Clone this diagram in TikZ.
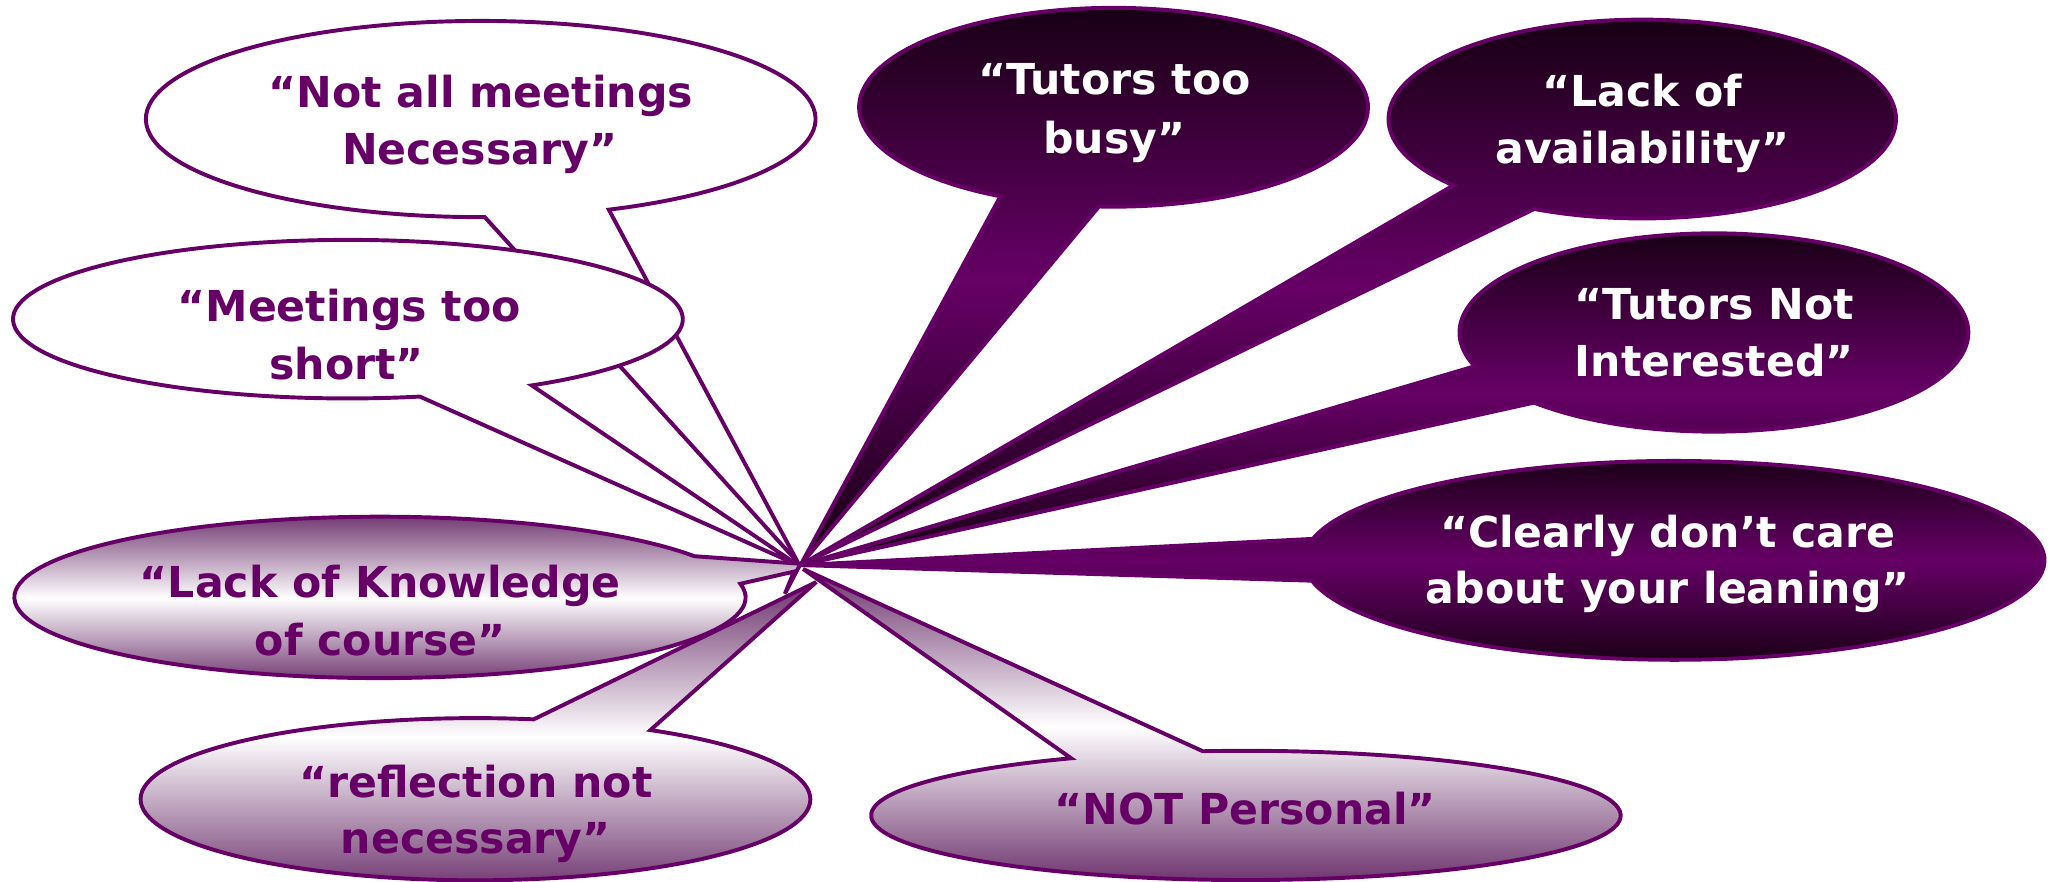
\documentclass[tikz,border=0pt]{standalone}
\usepackage{fontspec}
\setmainfont{DejaVu Sans}
\usetikzlibrary{calc}
\definecolor{pur}{RGB}{102,0,102}
\definecolor{darkp}{RGB}{20,0,16}
\definecolor{lightp}{RGB}{108,50,108}
\tikzset{
  bubble/.style={draw=pur, line width=1.5pt, line join=miter, miter limit=4},
  whitebub/.style={bubble, fill=white},
  lightbub/.style={bubble, top color=lightp, bottom color=lightp, middle color=white},
  darkbub/.style={bubble, top color=darkp, bottom color=darkp, middle color=pur},
  lbl/.style={font=\bfseries\fontsize{16.3}{20}\selectfont, anchor=base, inner sep=0pt},
  lbllight/.style={lbl, text=pur},
  lbldark/.style={lbl, text=white},
}
\begin{document}
\begin{tikzpicture}[x=0.5pt,y=-0.5pt]
\useasboundingbox (0,0) rectangle (1568,674);
% centres and tips
\coordinate (cA) at (367.5,91);
\coordinate (cB) at (266,244);
\coordinate (cC) at (290.5,456.7);
\coordinate (cD) at (363.5,611);
\coordinate (cE) at (952.5,623.4);
\coordinate (cF) at (851.3,82);
\coordinate (cG) at (1255.5,91);
\coordinate (cH) at (1310.3,254.2);
\coordinate (cI) at (1280,428.4);
\coordinate (tA) at (610,430);
\coordinate (tB) at (610,432);
\coordinate (tC) at (612,431);
\coordinate (sC) at (600,454);
\coordinate (nC) at (607,437);
\coordinate (tD) at (624,445);
\coordinate (tE) at (614,435);
\coordinate (tF) at (612,432);
\coordinate (tG) at (612,432);
\coordinate (tH) at (612,432);
\coordinate (tI) at (612,432);

% Not all meetings Necessary
\draw[whitebub] ($(cA)+(89.3:256 and 75)$) arc[start angle=89.3, end angle=427.5, x radius=256, y radius=75] -- (tA) -- cycle;
\node[lbllight] (a1) at (367.5,82) {“Not all meetings};
\node[lbllight] (a2) at (366.7,125.4) {Necessary”};

% Meetings too short
\draw[whitebub] ($(cB)+(77.6:256 and 60.6)$) arc[start angle=77.6, end angle=416.7, x radius=256, y radius=60.6] -- (tB) -- cycle;
\node[lbllight] (b1) at (267,246) {“Meetings too};
\node[lbllight] (b2) at (265,290.5) {short”};

% Tutors too busy
\draw[darkbub] ($(cF)+(116.4:194.5 and 76)$) arc[start angle=116.4, end angle=453.3, x radius=194.5, y radius=76] -- (tF) -- cycle;
\node[lbldark] (f1) at (852,72.6) {“Tutors too};
\node[lbldark] (f2) at (852,117) {busy”};

% Lack of availability
\draw[darkbub] ($(cG)+(138.1:194 and 76)$) arc[start angle=138.1, end angle=475.2, x radius=194, y radius=76] -- (tG) -- cycle;
\node[lbldark] (g1) at (1255.5,81.6) {“Lack of};
\node[lbldark] (g2) at (1255.5,124.9) {availability”};

% Tutors Not Interested
\draw[darkbub] ($(cH)+(160.1:194.5 and 75.8)$) arc[start angle=160.1, end angle=495, x radius=194.5, y radius=75.8] -- (tH) -- cycle;
\node[lbldark] (h1) at (1310.6,244.6) {“Tutors Not};
\node[lbldark] (h2) at (1310.6,288) {Interested”};

% Clearly don't care
\draw[darkbub] ($(cI)+(192.5:283 and 76)$) arc[start angle=192.5, end angle=528.2, x radius=283, y radius=76] -- (tI) -- cycle;
\node[lbldark] (i1) at (1275,418.4) {“Clearly don’t care};
\node[lbldark] (i2) at (1275,461) {about your leaning”};

% Lack of Knowledge of course
\draw[lightbub] ($(cC)+(350.3:279.5 and 61.7)$) arc[start angle=350.3, end angle=689.3, x radius=279.5, y radius=61.7] -- (tC) -- (sC) -- (nC) -- cycle;
\node[lbllight] (c1) at (290.7,457) {“Lack of Knowledge};
\node[lbllight] (c2) at (290.7,500.8) {of course”};

% reflection not necessary
\draw[lightbub] ($(cD)+(-58.5:256 and 62)$) arc[start angle=-58.5, end angle=280, x radius=256, y radius=62] -- (tD) -- cycle;
\node[lbllight] (d1) at (363.8,609.8) {“reflection not};
\node[lbllight] (d2) at (363.8,652.3) {necessary”};

% NOT Personal
\draw[lightbub] ($(cE)+(263.4:286.5 and 49.4)$) arc[start angle=263.4, end angle=602.2, x radius=286.5, y radius=49.4] -- (tE) -- cycle;
\node[lbllight] (e1) at (952,630.7) {“NOT Personal”};
\end{tikzpicture}
\end{document}
